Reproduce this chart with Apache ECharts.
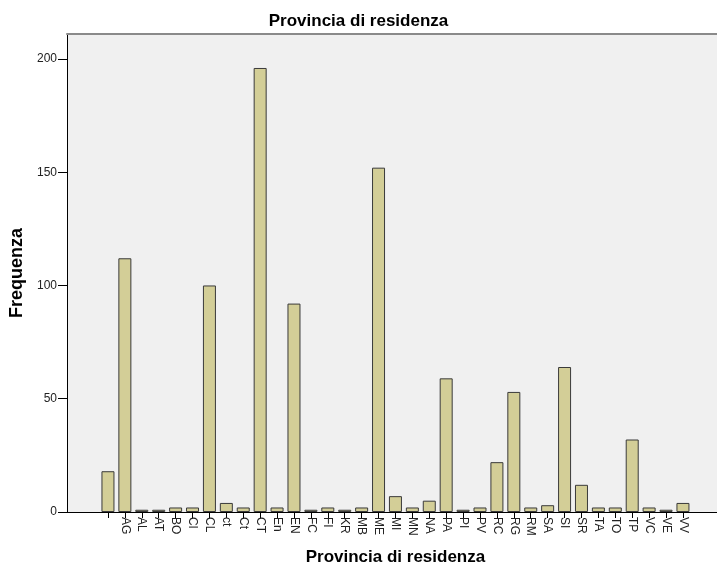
<!DOCTYPE html>
<html>
<head>
<meta charset="utf-8">
<script src="https://cdn.jsdelivr.net/npm/echarts@6/dist/echarts.min.js"></script>
<style>
  html, body { margin: 0; padding: 0; background: #fff; }
  #chart { width: 717px; height: 567px; }
</style>
</head>
<body>
<div id="chart"></div>
<script>
// province codes as they appear in the data (first one is empty)
const categories = ['', 'AG', 'AL', 'AT', 'BO', 'Cl', 'CL', 'ct', 'Ct', 'CT', 'En', 'EN', 'FC', 'FI', 'KR', 'MB',
  'ME', 'MI', 'MN', 'NA', 'PA', 'PI', 'PV', 'RC', 'RG', 'RM', 'SA', 'SI', 'SR', 'TA', 'TO', 'TP', 'VC', 'VE', 'VV']
const frequencies = [18, 112, 1, 1, 2, 2, 100, 4, 2, 196, 2, 92, 1, 2, 1, 2,
  152, 7, 2, 5, 59, 1, 2, 22, 53, 2, 3, 64, 12, 2, 2, 32, 2, 1, 4]
const yTicks = [0, 50, 100, 150, 200]

const font = 'Liberation Sans, Arial, sans-serif'
const chart = echarts.init(document.getElementById('chart'))

const option = {
  animation: false,
  title: {
    text: 'Provincia di residenza',
    left: 'center',
    top: 8,
    textStyle: { fontFamily: font, fontSize: 17, fontWeight: 'bold', color: '#000' }
  },
  grid: [
    // frame with the grey background
    { left: 67, right: 0, top: 34, bottom: 55, show: true, backgroundColor: '#f0f0f0', borderWidth: 0,
      outerBoundsMode: 'none', containLabel: false },
    // inner grid for the bars (categories sit inside the frame with padding)
    { left: 99.5, right: 25.6, top: 34, bottom: 55, outerBoundsMode: 'none', containLabel: false }
  ],
  xAxis: [
    {
      gridIndex: 0, type: 'value', min: 0, max: 1, position: 'bottom',
      axisLine: { show: true, lineStyle: { color: '#000', width: 1 } },
      axisTick: { show: false }, axisLabel: { show: false }, splitLine: { show: false }
    },
    {
      gridIndex: 0, type: 'value', min: 0, max: 1, position: 'top',
      axisLine: { show: true, lineStyle: { color: '#8a8a8a', width: 2 } },
      axisTick: { show: false }, axisLabel: { show: false }, splitLine: { show: false }
    },
    {
      gridIndex: 1, type: 'category', data: categories,
      axisLine: { show: false },
      axisTick: { show: true, alignWithLabel: true, length: 6, lineStyle: { color: '#000' } },
      axisLabel: { rotate: -90, interval: 0, margin: 5, fontFamily: font, fontSize: 12, color: '#222' },
      name: 'Provincia di residenza',
      nameLocation: 'middle',
      nameGap: 37,
      nameTextStyle: { fontFamily: font, fontSize: 17, fontWeight: 'bold', color: '#000' }
    }
  ],
  yAxis: [
    {
      gridIndex: 0, type: 'value', min: 0, max: 211,
      axisLine: { show: true, lineStyle: { color: '#000' } },
      axisTick: { show: true, length: 9, customValues: yTicks, lineStyle: { color: '#000' } },
      axisLabel: {
        fontFamily: font, fontSize: 12, color: '#222', margin: 10,
        customValues: yTicks
      },
      splitLine: { show: false },
      name: 'Frequenza',
      nameLocation: 'middle',
      nameGap: 40,
      nameTextStyle: { fontFamily: font, fontSize: 18, fontWeight: 'bold', color: '#000' }
    },
    {
      gridIndex: 1, type: 'value', min: 0, max: 211,
      show: false, splitLine: { show: false }
    }
  ],
  series: [{
    type: 'bar',
    xAxisIndex: 2,
    yAxisIndex: 1,
    data: frequencies,
    barWidth: 13,
    itemStyle: { color: '#d3ce97', borderColor: '#3a3a3a', borderWidth: 1 }
  }]
}

chart.setOption(option)
</script>
</body>
</html>
